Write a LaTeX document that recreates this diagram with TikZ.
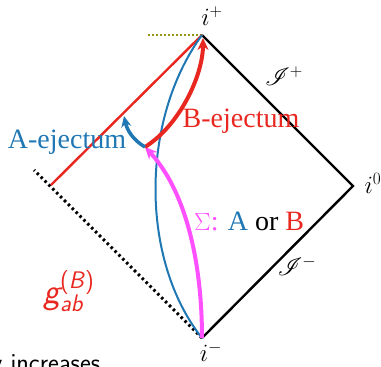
\documentclass[tikz,border=0pt]{standalone}
\usepackage{fontspec}
\usepackage{mathrsfs}
\setmainfont{Liberation Serif}
\usetikzlibrary{arrows.meta}
\definecolor{cblue}{RGB}{31,119,180}
\definecolor{cred}{RGB}{232,40,32}
\definecolor{cmag}{RGB}{255,80,255}
\definecolor{colive}{RGB}{150,150,20}
\tikzset{
  lbl/.style={inner sep=0pt, font=\fontsize{28}{32}\selectfont},
  mlbl/.style={inner sep=0pt, font=\fontsize{25}{30}\selectfont},
  scrlbl/.style={inner sep=0pt, font=\fontsize{25}{30}\selectfont},
  bdry/.style={line width=2.4pt, black},
  thickarr/.style={line width=4pt, -{Stealth[length=12pt,width=11pt]}},
}
\begin{document}
\begin{tikzpicture}[x=1pt,y=-1pt]
\useasboundingbox (0,0) rectangle (381,367);
\coordinate (ip) at (202,35);
\coordinate (io) at (353,186);
\coordinate (im) at (202,338);
\coordinate (dl) at (34,170);
\coordinate (rl) at (51,185);
\coordinate (ol) at (148,35);
\coordinate (ej) at (145,147);
\coordinate (ae) at (124,116);
\coordinate (bt) at (203,38);
% boundaries
\draw[bdry] (ip) -- (io) -- (im);
\draw[black, line width=3pt, dash pattern=on 2.5pt off 3pt] (im) -- (dl);
\draw[colive, line width=2.2pt, dash pattern=on 2pt off 2pt] (ol) -- (ip);
\draw[cred, line width=2.4pt] (rl) -- (ip);
% blue curve
\draw[cblue, line width=2pt] (im) .. controls (140,260) and (140,120) .. (ip);
% magenta arrow
\draw[cmag, thickarr] (im) .. controls (202,260) and (185,190) .. (ej);
% red arrow
\draw[cred, thickarr] (ej) .. controls (180,125) and (203,75) .. (bt);
% blue small arrow
\draw[cblue, line width=3.5pt, -{Stealth[length=11pt,width=10pt]}] (ej) .. controls (133,140) and (127,130) .. (ae);
% labels
\node[mlbl] (lip) at (212,16) {$i^{+}$};
\node[mlbl] (lio) at (373,183) {$i^{0}$};
\node[mlbl] (lim) at (211,352) {$i^{-}$};
\node[scrlbl] (lsp) at (284,76) {$\mathscr{I}^{+}$};
\node[scrlbl] (lsm) at (297,266) {$\mathscr{I}^{-}$};
\node[lbl, text=cred, anchor=base] (lb) at (241,127) {B-ejectum};
\node[lbl, text=cblue, anchor=base] (la) at (67,148) {A-ejectum};
\node[lbl, anchor=base west] (ls) at (194,230) {\textcolor{cmag}{$\Sigma$:} \textcolor{cblue}{A} or \textcolor{cred}{B}};
\node[inner sep=0pt, text=cred, anchor=base west] (lg) at (43,303) {{\sffamily\slshape\fontsize{36}{40}\selectfont g}{\sffamily\fontsize{24}{28}\selectfont\rlap{\raisebox{-8pt}{\slshape ab}}\raisebox{15pt}{(\textsl{B})}}};
\node[inner sep=0pt, anchor=base west, font=\sffamily\fontsize{26}{30}\selectfont] (ly) at (-9,371) {y increases};
\end{tikzpicture}
\end{document}
